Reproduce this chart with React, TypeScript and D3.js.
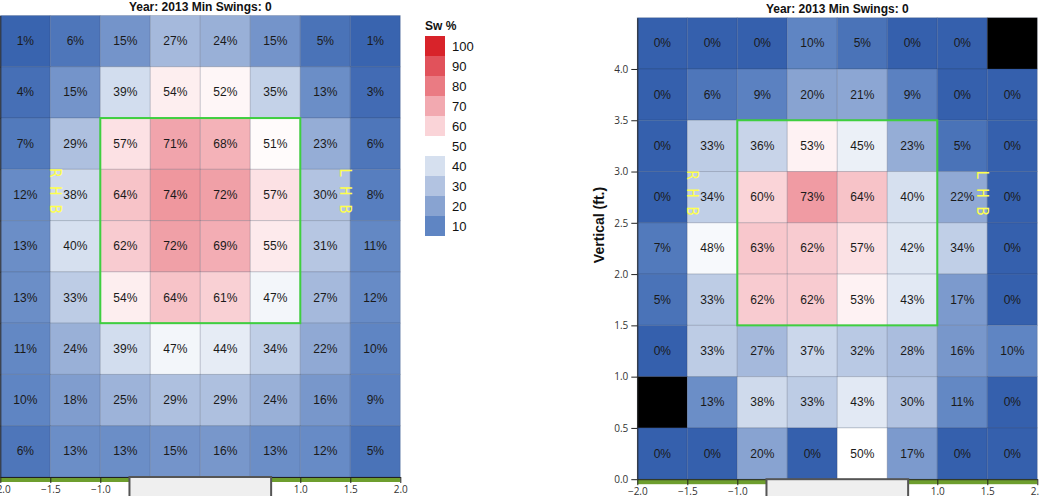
import { useEffect, useRef } from 'react';
import * as d3 from 'd3';

// Zone bins (feet) — left edges of columns, bottom edges of rows (top row first)
const xBins = [-2, -1.5, -1, -0.5, 0, 0.5, 1, 1.5];
const zBins = [4, 3.5, 3, 2.5, 2, 1.5, 1, 0.5, 0];

// Swing % per zone, rows top to bottom
const leftSwing: (number | null)[][] = [
  [1, 6, 15, 27, 24, 15, 5, 1],
  [4, 15, 39, 54, 52, 35, 13, 3],
  [7, 29, 57, 71, 68, 51, 23, 6],
  [12, 38, 64, 74, 72, 57, 30, 8],
  [13, 40, 62, 72, 69, 55, 31, 11],
  [13, 33, 54, 64, 61, 47, 27, 12],
  [11, 24, 39, 47, 44, 34, 22, 10],
  [10, 18, 25, 29, 29, 24, 16, 9],
  [6, 13, 13, 15, 16, 13, 12, 5],
];

const rightSwing: (number | null)[][] = [
  [0, 0, 0, 10, 5, 0, 0, null],
  [0, 6, 9, 20, 21, 9, 0, 0],
  [0, 33, 36, 53, 45, 23, 5, 0],
  [0, 34, 60, 73, 64, 40, 22, 0],
  [7, 48, 63, 62, 57, 42, 34, 0],
  [5, 33, 62, 62, 53, 43, 17, 0],
  [0, 33, 27, 37, 32, 28, 16, 10],
  [null, 13, 38, 33, 43, 30, 11, 0],
  [0, 0, 20, 0, 50, 17, 0, 0],
];

const legendSteps = [100, 90, 80, 70, 60, 50, 40, 30, 20, 10];
const xTicks = [-2, -1.5, -1, -0.5, 0, 0.5, 1, 1.5, 2];
const yTicks = [0, 0.5, 1, 1.5, 2, 2.5, 3, 3.5, 4];
const title = 'Year: 2013 Min Swings: 0';

const colorStops = [0, 10, 20, 30, 40, 50, 60, 70, 80, 90, 100];
const colorRange = [
  '#3560ad', '#5f85c3', '#88a3d1', '#b2c3e1', '#d6e0ef', '#ffffff',
  '#fad4d8', '#f2a9b0', '#ea7b83', '#e1525b', '#d8232a',
];

const color = d3.scaleLinear<string>().domain(colorStops).range(colorRange);

const W = 400;
const H = 461.5;
const x = d3.scaleLinear().domain([-2, 2]).range([0, W]);
const y = d3.scaleLinear().domain([0, 4.5]).range([H, 0]);
const cellFont = '"Liberation Sans", Arial, sans-serif';

function Panel({
  values,
  tx,
  ty,
  yLabels,
}: {
  values: (number | null)[][];
  tx: number;
  ty: number;
  yLabels: boolean;
}) {
  const xAxisRef = useRef<SVGGElement>(null);
  const yAxisRef = useRef<SVGGElement>(null);

  useEffect(() => {
    const xa = d3.select(xAxisRef.current!);
    xa.selectAll('*').remove();
    xa.call(
      d3.axisBottom(x).tickValues(xTicks).tickFormat(d3.format('.1f')).tickSize(6).tickSizeOuter(0)
    );
    const ya = d3.select(yAxisRef.current!);
    ya.selectAll('*').remove();
    ya.call(
      d3.axisLeft(y).tickValues(yTicks).tickFormat(d3.format('.1f')).tickSize(6).tickSizeOuter(0)
    );
    // the left panel's vertical labels sit off the page
    if (!yLabels) ya.selectAll('text').remove();
    [xa, ya].forEach((a) => {
      a.attr('font-family', '"Open Sans", sans-serif').attr('font-size', 10);
      a.selectAll('text').attr('fill', '#333');
      a.selectAll('line').attr('stroke', '#222');
      a.select('.domain').attr('stroke', '#222');
    });
  }, [yLabels]);

  const step = 0.5;
  const plateHalf = 17 / 24;

  return (
    <g transform={`translate(${tx},${ty})`}>
      <text x={W / 2} y={-5} textAnchor="middle" fontFamily={cellFont} fontWeight="bold" fontSize={12} fill="#111">
        {title}
      </text>
      {values.map((row, ri) =>
        row.map((v, ci) => {
          const x0 = x(xBins[ci]);
          const x1 = x(xBins[ci] + step);
          const y0 = y(zBins[ri] + step);
          const y1 = y(zBins[ri]);
          return (
            <g key={`${ri}-${ci}`}>
              <rect
                x={x0}
                y={y0}
                width={x1 - x0}
                height={y1 - y0}
                fill={v === null ? '#000' : color(v)}
                stroke="#1c2a4a"
                strokeOpacity={0.18}
                strokeWidth={1}
              />
              {v !== null && (
                <text
                  x={(x0 + x1) / 2}
                  y={(y0 + y1) / 2 + 4}
                  textAnchor="middle"
                  fontFamily={cellFont}
                  fontSize={12}
                  fill="#1a1a1a"
                >
                  {`${v}%`}
                </text>
              )}
            </g>
          );
        })
      )}
      <rect x={0} y={H} width={W} height={5} fill="#6e9e2e" />
      <g ref={xAxisRef} transform={`translate(0,${H})`} />
      <g ref={yAxisRef} />
      <rect
        x={x(-plateHalf)}
        y={H}
        width={x(plateHalf) - x(-plateHalf)}
        height={40}
        fill="#efefef"
        stroke="#555"
        strokeWidth={2}
      />
      <rect
        x={x(-1)}
        y={y(3.5)}
        width={x(1) - x(-1)}
        height={y(1.5) - y(3.5)}
        fill="none"
        stroke="#3fcf3f"
        strokeWidth={2}
      />
      {[
        { label: 'R H B', fx: -1.45 },
        { label: 'L H B', fx: 1.45 },
      ].map((d) => (
        <text
          key={d.label}
          transform={`translate(${x(d.fx)},${y(2.79)}) rotate(90)`}
          textAnchor="middle"
          dominantBaseline="central"
          fontFamily='"DejaVu Sans Mono", monospace'
          fontSize={15}
          fill="#ffff4d"
        >
          {d.label}
        </text>
      ))}
    </g>
  );
}

export default function App() {
  return (
    <svg
      width={1039}
      height={496}
      style={{ position: 'absolute', left: 0, top: 0, background: '#fff' }}
    >
      <Panel values={leftSwing} tx={0.3} ty={15.5} yLabels={false} />
      <Panel values={rightSwing} tx={637.3} ty={17.7} yLabels={true} />
      <text
        transform="translate(604,225) rotate(-90)"
        textAnchor="middle"
        fontFamily={cellFont}
        fontWeight="bold"
        fontSize={14}
        fill="#111"
      >
        Vertical (ft.)
      </text>
      <g transform="translate(425,36)">
        <text x={0} y={-6} fontFamily={cellFont} fontWeight="bold" fontSize={12} fill="#111">
          Sw %
        </text>
        {legendSteps.map((v, i) => (
          <g key={v} transform={`translate(0,${i * 20})`}>
            <rect width={20} height={20} fill={color(v)} />
            <text x={27} y={15} fontFamily={cellFont} fontSize={13} fill="#111">
              {v}
            </text>
          </g>
        ))}
      </g>
    </svg>
  );
}
